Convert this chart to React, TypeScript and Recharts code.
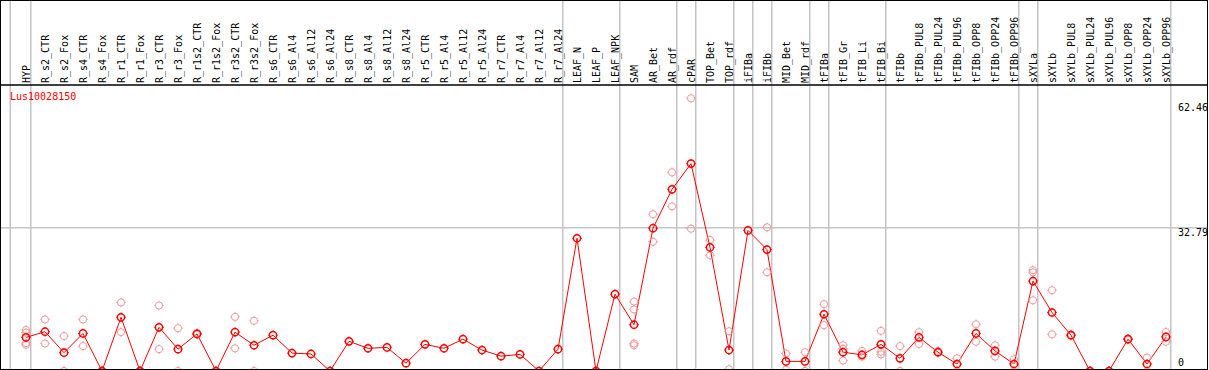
import {
  ComposedChart,
  Line,
  Scatter,
  XAxis,
  YAxis,
  ReferenceLine,
} from "recharts";

const categories = [
  "HYP", "R_s2_CTR", "R_s2_Fox", "R_s4_CTR", "R_s4_Fox", "R_r1_CTR", "R_r1_Fox",
  "R_r3_CTR", "R_r3_Fox", "R_r1s2_CTR", "R_r1s2_Fox", "R_r3s2_CTR", "R_r3s2_Fox",
  "R_s6_CTR", "R_s6_Al4", "R_s6_Al12", "R_s6_Al24", "R_s8_CTR", "R_s8_Al4",
  "R_s8_Al12", "R_s8_Al24", "R_r5_CTR", "R_r5_Al4", "R_r5_Al12", "R_r5_Al24",
  "R_r7_CTR", "R_r7_Al4", "R_r7_Al12", "R_r7_Al24", "LEAF_N", "LEAF_P", "LEAF_NPK",
  "SAM", "AR_Bet", "AR_rdf", "cPAR", "TOP_Bet", "TOP_rdf", "iFIBa", "iFIBb",
  "MID_Bet", "MID_rdf", "tFIBa", "tFIB_Gr", "tFIB_Li", "tFIB_Bi", "tFIBb",
  "tFIBb_PUL8", "tFIBb_PUL24", "tFIBb_PUL96", "tFIBb_OPP8", "tFIBb_OPP24", "tFIBb_OPP96",
  "sXYLa", "sXYLb", "sXYLb_PUL8", "sXYLb_PUL24", "sXYLb_PUL96", "sXYLb_OPP8",
  "sXYLb_OPP24", "sXYLb_OPP96",
];

// mean expression per sample (red line)
const means = [
  7.7, 9.0, 4.2, 8.6, 0, 12.3, 0,
  10.0, 5.0, 8.5, 0, 8.9, 5.9,
  8.2, 4.1, 3.9, 0, 6.8, 5.2,
  5.4, 1.8, 6.1, 5.2, 7.3, 4.8,
  3.4, 3.8, 0, 5.0, 30.4, 0, 17.6,
  10.6, 32.7, 41.6, 47.5, 28.3, 4.8, 32.2, 27.8,
  2.2, 2.2, 13.0, 4.3, 3.7, 6.1, 2.9,
  7.7, 4.3, 1.6, 8.6, 4.6, 1.6,
  20.6, 13.4, 8.2, 0, 0, 7.3,
  1.6, 7.8,
];

// single replicates (pink circles)
const replicates: number[][] = [
  [9.4, 8.8, 6.4, 6.0], [11.8, 6.3], [8.0, 0], [11.8, 5.7], [0, 0], [15.7, 8.9], [0, 0],
  [15.0, 5.0], [9.8, 0], [8.7, 8.4], [0, 0], [12.4, 5.2], [11.5, 0],
  [], [], [], [], [], [],
  [], [], [], [], [], [],
  [], [], [], [], [], [], [],
  [15.9, 14.1, 6.3, 5.9], [35.9, 29.6], [45.5, 37.7], [62.46, 32.6], [30.0, 26.5], [9.1, 0.4], [], [32.9, 22.6],
  [4.0, 0.3], [4.3, 0], [15.3, 10.5], [5.9, 5.1, 2.4], [4.6, 3.3], [9.2, 4.4, 3.8], [5.7, 0],
  [8.9, 6.2], [4.6, 4.2], [2.9, 0], [10.7, 6.7], [5.9, 3.3], [2.7, 0],
  [23.1, 22.6, 16.2], [18.5, 8.4], [8.3, 8.1], [0, 0], [0, 0], [7.4, 7.2],
  [3.1, 0], [8.9, 6.7],
];

// group separators, in category index units
const separators = [-0.83, 0.25, 28.25, 31.25, 34.25, 35.25, 37.25, 38.25, 39.25, 41.25, 42.25, 45.25, 52.25, 53.25, 60.25];

const yTicks = [0, 32.79, 62.46];
const geneName = "Lus10028150";

const MONO = "'DejaVu Sans Mono', monospace";
const RED = "#ff0000";
const PINK = "#ef9a9a";
const GRID = "#c4c4c4";

const lineData = means.map((mean, i) => ({ i, mean }));
const repData = replicates.flatMap((vals, i) => vals.map((v) => ({ i, v })));
const ticks = categories.map((_, i) => i);

function Marker({ cx, cy, color, w }: { cx?: number; cy?: number; color: string; w: number }) {
  if (cx == null || cy == null) return null;
  return (
    <g stroke={color} strokeWidth={w} fill="none">
      <circle cx={cx} cy={cy} r={3.6} />
      <line x1={cx} y1={cy - 4.8} x2={cx} y2={cy - 3.6} strokeWidth={1} />
      <line x1={cx} y1={cy + 3.6} x2={cx} y2={cy + 4.8} strokeWidth={1} />
      <line x1={cx - 4.8} y1={cy} x2={cx - 3.6} y2={cy} strokeWidth={1} />
      <line x1={cx + 3.6} y1={cy} x2={cx + 4.8} y2={cy} strokeWidth={1} />
    </g>
  );
}

function CatTick({ x, payload }: { x?: number; payload?: { value: number } }) {
  if (x == null || !payload) return null;
  return (
    <text
      x={x}
      y={83}
      dy="0.35em"
      transform={`rotate(-90, ${x}, 83)`}
      textAnchor="start"
      fontFamily={MONO}
      fontSize={10}
      fill="#000"
    >
      {categories[payload.value]}
    </text>
  );
}

function ValTick({ y, payload }: { y?: number; payload?: { value: number } }) {
  if (y == null || !payload) return null;
  const base = Math.min(Math.max(y + 8, 111), 366);
  return (
    <text x={1178} y={base} textAnchor="start" fontFamily={MONO} fontSize={10} fill="#000">
      {payload.value}
    </text>
  );
}

export default function App() {
  return (
    <div
      style={{
        position: "absolute",
        left: 0,
        top: 0,
        width: 1209,
        height: 370,
        overflow: "hidden",
        background: "#fff",
      }}
    >
      <ComposedChart
        width={1209}
        height={372}
        data={lineData}
        margin={{ top: 0, right: 0, bottom: 1, left: 0 }}
        style={{ overflow: "visible" }}
      >
        <XAxis
          dataKey="i"
          type="number"
          orientation="top"
          height={85}
          domain={[-26 / 19, 1182 / 19]}
          allowDataOverflow
          ticks={ticks}
          interval={0}
          tickLine={false}
          axisLine={{ stroke: "#000", strokeWidth: 1.5 }}
          tick={<CatTick />}
        />
        <YAxis
          orientation="right"
          width={1}
          type="number"
          domain={[0, 65.5]}
          allowDataOverflow
          ticks={yTicks}
          interval={0}
          axisLine={false}
          tickLine={false}
          tick={<ValTick />}
        />
        <ReferenceLine y={32.79} stroke={GRID} strokeWidth={1.5} />
        {separators.map((s) => (
          <ReferenceLine
            key={s}
            segment={[{ x: s, y: 0 }, { x: s, y: 85 }]}
            stroke={GRID}
            strokeWidth={1.5}
            ifOverflow="visible"
          />
        ))}
        <Scatter
          data={repData}
          dataKey="v"
          isAnimationActive={false}
          shape={(p: any) => <Marker cx={p.cx} cy={p.cy} color={PINK} w={1} />}
        />
        <Line
          dataKey="mean"
          stroke={RED}
          strokeWidth={1}
          isAnimationActive={false}
          dot={(p: any) => <Marker key={p.index} cx={p.cx} cy={p.cy} color={RED} w={1.5} />}
          activeDot={false}
        />
      </ComposedChart>
      <div
        style={{
          position: "absolute",
          left: 10,
          top: 92,
          fontFamily: MONO,
          fontSize: 10,
          lineHeight: "10px",
          color: RED,
        }}
      >
        {geneName}
      </div>
      <div
        style={{
          position: "absolute",
          left: 0,
          top: 0,
          width: 1208,
          height: 370,
          boxSizing: "border-box",
          border: "1px solid #000",
          pointerEvents: "none",
        }}
      />
    </div>
  );
}
